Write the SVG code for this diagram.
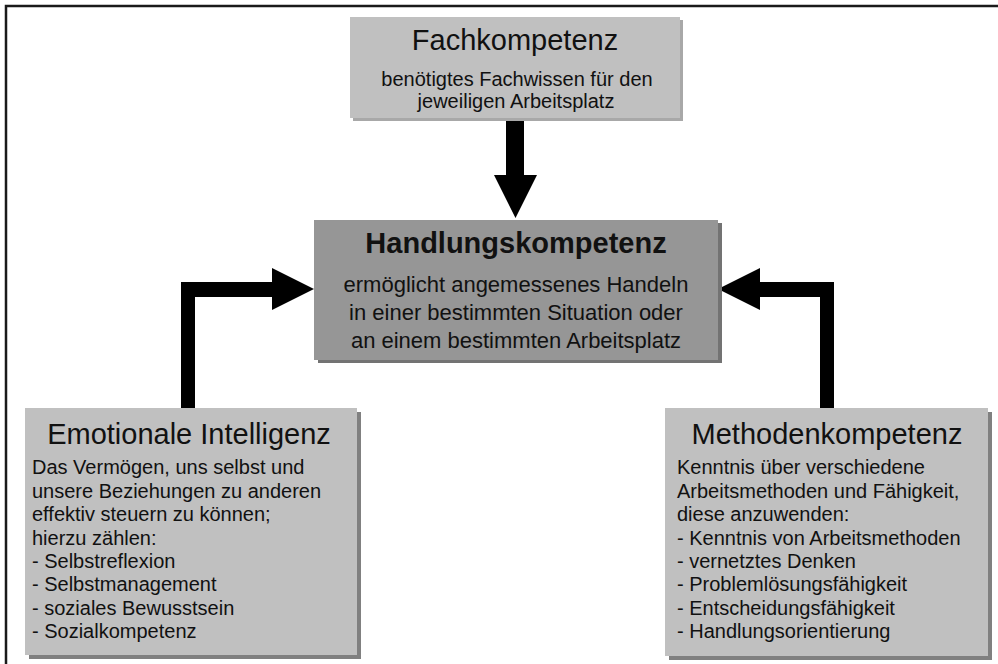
<svg xmlns="http://www.w3.org/2000/svg" width="998" height="664" viewBox="0 0 998 664">
  <style>
    text { font-family: "Liberation Sans", Arial, sans-serif; fill: #111; }
    .title { font-size: 29px; text-anchor: middle; }
    .bold { font-size: 29px; font-weight: bold; text-anchor: middle; }
    .mid { font-size: 20px; text-anchor: middle; }
    .midl { font-size: 22px; text-anchor: middle; }
    .body { font-size: 20px; }
    .box { fill: #c0c0c0; }
    .box-dark { fill: #969696; }
    .shadow { fill: #808080; }
    .arrow { fill: #000; }
  </style>

  <rect width="998" height="664" fill="#fff"/>
  <!-- outer frame, open to the right and bottom -->
  <rect x="6" y="6" width="1010" height="700" fill="none" stroke="#1a1a1a" stroke-width="2.5"/>

  <g id="connectors">
    <polygon class="arrow" points="506,118 524,118 524,175 537,175 515.5,218 494,175 506,175"/>
    <polygon class="arrow" points="181,408 181,282 272,282 272,268 314,289 272,310 272,297 195,297 195,408"/>
    <polygon class="arrow" points="834,408 834,282 760,282 760,268 718,289 760,310 760,297 820,297 820,408"/>
  </g>

  <g id="fachkompetenz">
    <rect x="353" y="20" width="330" height="101" fill="#a8a8a8"/>
    <rect class="box" x="350" y="17" width="330" height="101"/>
    <text class="title" x="515" y="50">Fachkompetenz</text>
    <text class="mid" x="517" y="86">benötigtes Fachwissen für den</text>
    <text class="mid" x="516" y="108">jeweiligen Arbeitsplatz</text>
  </g>

  <g id="handlungskompetenz">
    <rect x="318" y="223" width="404" height="140" fill="#737373"/>
    <rect class="box-dark" x="314" y="220" width="404" height="140"/>
    <text class="bold" x="516" y="253">Handlungskompetenz</text>
    <text class="midl" x="516" y="292">ermöglicht angemessenes Handeln</text>
    <text class="midl" x="516" y="320">in einer bestimmten Situation oder</text>
    <text class="midl" x="516" y="348">an einem bestimmten Arbeitsplatz</text>
  </g>

  <g id="emotionale-intelligenz">
    <rect class="shadow" x="29" y="412" width="332" height="247"/>
    <rect class="box" x="25" y="408" width="332" height="247"/>
    <text class="title" x="189" y="444">Emotionale Intelligenz</text>
    <text class="body" x="32" y="474">Das Vermögen, uns selbst und</text>
    <text class="body" x="32" y="497.5">unsere Beziehungen zu anderen</text>
    <text class="body" x="32" y="521">effektiv steuern zu können;</text>
    <text class="body" x="32" y="544.5">hierzu zählen:</text>
    <text class="body" x="32" y="568">- Selbstreflexion</text>
    <text class="body" x="32" y="591">- Selbstmanagement</text>
    <text class="body" x="32" y="614.5">- soziales Bewusstsein</text>
    <text class="body" x="32" y="638">- Sozialkompetenz</text>
  </g>

  <g id="methodenkompetenz">
    <rect class="shadow" x="669" y="412" width="323" height="248"/>
    <rect class="box" x="665" y="408" width="323" height="248"/>
    <text class="title" x="827" y="444">Methodenkompetenz</text>
    <text class="body" x="677" y="474">Kenntnis über verschiedene</text>
    <text class="body" x="677" y="497.5">Arbeitsmethoden und Fähigkeit,</text>
    <text class="body" x="677" y="521">diese anzuwenden:</text>
    <text class="body" x="677" y="544.5">- Kenntnis von Arbeitsmethoden</text>
    <text class="body" x="677" y="568">- vernetztes Denken</text>
    <text class="body" x="677" y="591">- Problemlösungsfähigkeit</text>
    <text class="body" x="677" y="614.5">- Entscheidungsfähigkeit</text>
    <text class="body" x="677" y="638">- Handlungsorientierung</text>
  </g>
</svg>
